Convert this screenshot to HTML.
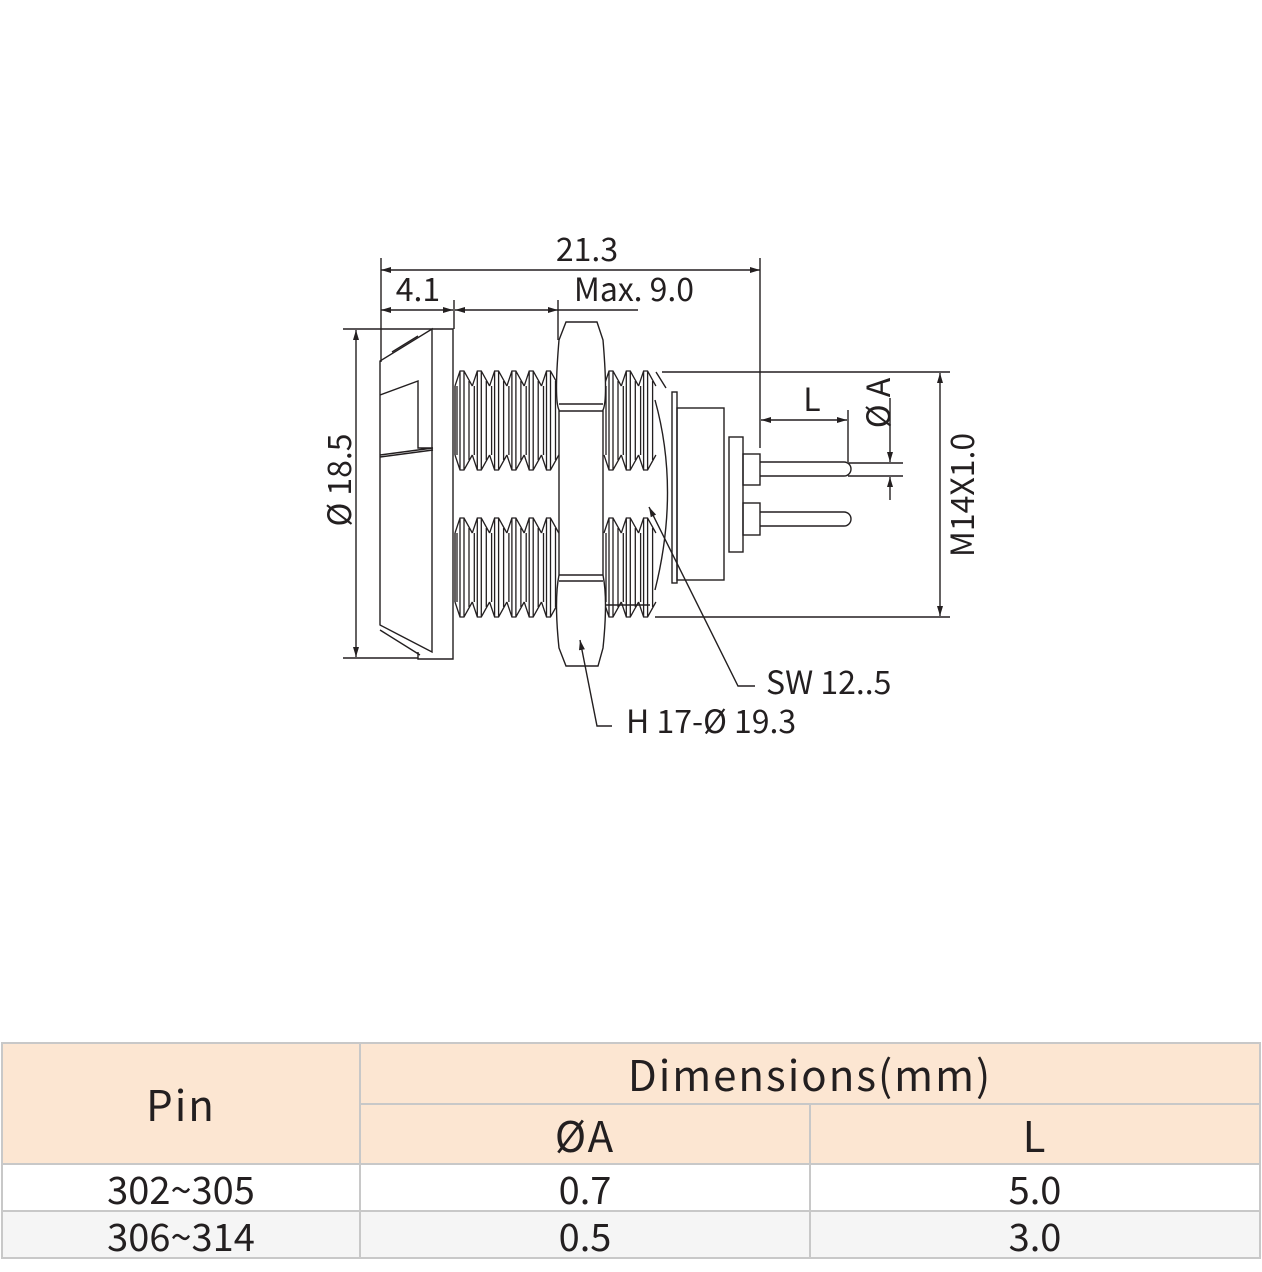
<!DOCTYPE html>
<html><head><meta charset="utf-8"><style>
html,body{margin:0;padding:0;background:#fff;width:1262px;height:1272px;overflow:hidden;font-family:"Noto Sans CJK SC","Liberation Sans",sans-serif;}
svg text{font-family:"Noto Sans CJK SC","Liberation Sans",sans-serif;fill:#231f20;}
.c{position:absolute;box-sizing:border-box;display:flex;align-items:center;justify-content:center;color:#231f20;font-family:"Noto Sans CJK SC","Liberation Sans",sans-serif;font-weight:400;}
.h{background:#fce6d2;font-size:42px;letter-spacing:2px;}
.d{font-size:38px;}
.ln{position:absolute;background:#c8c8c8;}
</style></head><body>
<svg width="1262" height="1040" style="position:absolute;left:0;top:0" xmlns="http://www.w3.org/2000/svg">
<defs>
<marker id="a" viewBox="0 0 10 6" refX="10" refY="3" markerWidth="10" markerHeight="6" orient="auto-start-reverse" markerUnits="userSpaceOnUse"><path d="M0,0 L10,3 L0,6z" fill="#231f20"/></marker>
<g id="tooth" fill="none" stroke="#231f20" stroke-width="1.3">
<path d="M0,386 L5,371 L9,371 L17.3,386 M0,455 L5,470 L9,470 L17.3,455 M2,386 L2,455 M5,371 L5,470 M9,371 L9,470 M14,381 L14,460"/>
</g>
</defs>
<g stroke="#231f20" stroke-width="1.4" fill="none">
<line x1="381" y1="258" x2="381" y2="362"/>
<line x1="760" y1="258" x2="760" y2="448"/>
<line x1="381" y1="270" x2="760" y2="270" marker-start="url(#a)" marker-end="url(#a)"/>
<line x1="381" y1="310" x2="453" y2="310" marker-start="url(#a)" marker-end="url(#a)"/>
<line x1="455" y1="310" x2="558" y2="310" marker-start="url(#a)" marker-end="url(#a)"/>
<line x1="558" y1="310" x2="638" y2="310"/>
<line x1="454" y1="300" x2="454" y2="329"/>
<line x1="558" y1="300" x2="558" y2="340"/>
<line x1="343" y1="329" x2="432" y2="329"/>
<line x1="343" y1="658" x2="418" y2="658"/>
<line x1="356" y1="330" x2="356" y2="657" marker-start="url(#a)" marker-end="url(#a)"/>
<path d="M380,361 L380,625 L432,652 L432,329 Z"/>
<path d="M432,329 L453,329 L453,659 L418,659 L418,652"/>
<path d="M392,352 L418,336 M380,395 L418,381 L418,448 L433,448 M380,455 L433,448 M380,630 L420,655"/>
<path d="M380,457 L433,450"/>
<use href="#tooth" x="455"/><use href="#tooth" x="472.3"/><use href="#tooth" x="489.6"/><use href="#tooth" x="506.9"/><use href="#tooth" x="524.2"/><use href="#tooth" x="541.5"/>
<use href="#tooth" x="455" y="147"/><use href="#tooth" x="472.3" y="147"/><use href="#tooth" x="489.6" y="147"/><use href="#tooth" x="506.9" y="147"/><use href="#tooth" x="524.2" y="147"/><use href="#tooth" x="541.5" y="147"/>
<use href="#tooth" x="604"/><use href="#tooth" x="621.3"/><use href="#tooth" x="638.6"/>
<use href="#tooth" x="604" y="147"/><use href="#tooth" x="621.3" y="147"/><use href="#tooth" x="638.6" y="147"/>
<line x1="455" y1="386" x2="455" y2="455"/><line x1="455" y1="533" x2="455" y2="602"/>
<path d="M656,372 L666,388 M606,605 L650,605"/>
<path d="M655,400 Q680,490 655,590"/>
<path d="M566,322 L597,322 L603,340 Q608,400 603,410 L603,575 Q608,600 603,648 L598,666 L566,666 L559,648 Q554,600 559,575 L559,410 Q554,400 559,340 Z" fill="#fff"/>
<path d="M559,404 L603,404 M559,411 L603,411 M559,575 L603,575 M559,581 L603,581"/>
<line x1="662" y1="372" x2="950" y2="372"/>
<line x1="655" y1="617" x2="950" y2="617"/>
<line x1="940" y1="373" x2="940" y2="616" marker-start="url(#a)" marker-end="url(#a)"/>
<rect x="672" y="392" width="5" height="191"/>
<rect x="677" y="408" width="47" height="172"/>
<rect x="729" y="437" width="14" height="115"/>
<rect x="743" y="454" width="17" height="31"/>
<rect x="743" y="503" width="17" height="32"/>
<path d="M760,462 L844,462 A7,7 0 0 1 844,476 L760,476"/>
<path d="M760,512 L844,512 A7,7 0 0 1 844,526 L760,526"/>
<line x1="848" y1="410" x2="848" y2="462"/>
<line x1="761" y1="420" x2="847" y2="420" marker-start="url(#a)" marker-end="url(#a)"/>
<line x1="848" y1="463" x2="903" y2="463"/>
<line x1="848" y1="476" x2="903" y2="476"/>
<line x1="890" y1="398" x2="890" y2="462" marker-end="url(#a)"/>
<line x1="890" y1="500" x2="890" y2="477" marker-end="url(#a)"/>
<path d="M755,686 L738,686 L649,507" marker-end="url(#a)"/>
<path d="M612,726 L597,726 L580,640" marker-end="url(#a)"/>
</g>
<g font-size="32">
<text x="587" y="261" text-anchor="middle">21.3</text>
<text x="418" y="301" text-anchor="middle">4.1</text>
<text x="634" y="301" text-anchor="middle">Max. 9.0</text>
<text x="812" y="411" text-anchor="middle">L</text>
<text transform="translate(351,480) rotate(-90)" text-anchor="middle">Ø 18.5</text>
<text transform="translate(890,403) rotate(-90)" text-anchor="middle">Ø A</text>
<text transform="translate(974,495) rotate(-90)" text-anchor="middle">M14X1.0</text>
<text x="766" y="694">SW 12..5</text>
<text x="626" y="733">H 17-Ø 19.3</text>
</g>
</svg>
<div class="c h" style="left:2px;top:1043px;width:1258px;height:121px"></div>
<div class="c" style="left:2px;top:1211px;width:1258px;height:47px;background:#f5f5f5"></div>
<div class="c h" style="left:2px;top:1043px;width:358px;height:121px;background:none">Pin</div>
<div class="c h" style="left:360px;top:1043px;width:900px;height:61px;background:none">Dimensions(mm)</div>
<div class="c h" style="left:360px;top:1104px;width:450px;height:60px;background:none">ØA</div>
<div class="c h" style="left:810px;top:1104px;width:450px;height:60px;background:none">L</div>
<div class="c d" style="left:2px;top:1164px;width:358px;height:47px">302~305</div>
<div class="c d" style="left:360px;top:1164px;width:450px;height:47px">0.7</div>
<div class="c d" style="left:810px;top:1164px;width:450px;height:47px">5.0</div>
<div class="c d" style="left:2px;top:1211px;width:358px;height:47px">306~314</div>
<div class="c d" style="left:360px;top:1211px;width:450px;height:47px">0.5</div>
<div class="c d" style="left:810px;top:1211px;width:450px;height:47px">3.0</div>
<div class="ln" style="left:1px;top:1042px;width:1260px;height:2px"></div>
<div class="ln" style="left:360px;top:1103px;width:900px;height:2px"></div>
<div class="ln" style="left:1px;top:1163px;width:1260px;height:2px"></div>
<div class="ln" style="left:1px;top:1210px;width:1260px;height:2px"></div>
<div class="ln" style="left:1px;top:1257px;width:1260px;height:2px"></div>
<div class="ln" style="left:1px;top:1042px;width:2px;height:217px"></div>
<div class="ln" style="left:359px;top:1042px;width:2px;height:217px"></div>
<div class="ln" style="left:809px;top:1103px;width:2px;height:156px"></div>
<div class="ln" style="left:1259px;top:1042px;width:2px;height:217px"></div>
</body></html>
